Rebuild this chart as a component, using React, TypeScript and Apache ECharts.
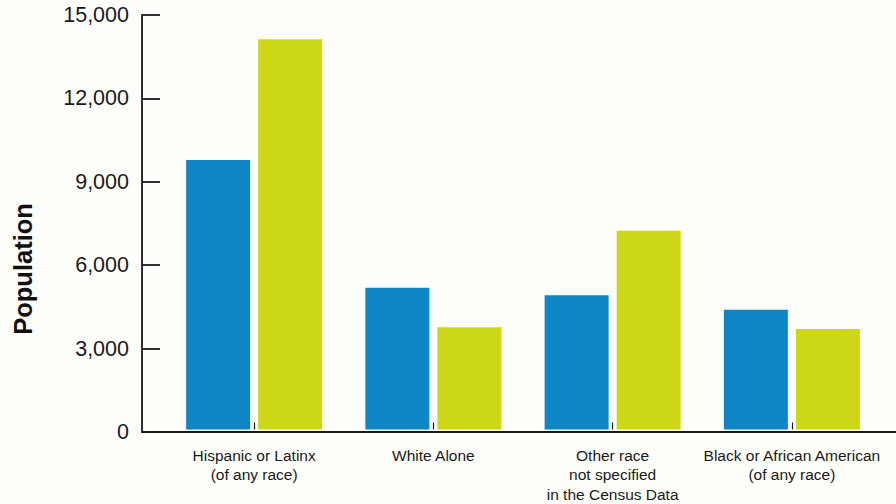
import React, { useEffect, useRef } from "react";
import * as echarts from "echarts";

const categories = [
  "Hispanic or Latinx\n(of any race)",
  "White Alone",
  "Other race\nnot specified\nin the Census Data",
  "Black or African American\n(of any race)",
];
const blueValues = [9750, 5130, 4860, 4330];
const greenValues = [14120, 3700, 7190, 3640];
const yTicks = { min: 0, max: 15000, interval: 3000 };
const yTitle = "Population";

const BLUE = "#0e86c5";
const GREEN = "#ccd816";
const AXIS = "#1a1a1a";
const FONT = "'Liberation Sans', Arial, Helvetica, sans-serif";

export default function App() {
  const ref = useRef<HTMLDivElement>(null);

  useEffect(() => {
    if (!ref.current) return;
    const chart = echarts.init(ref.current, undefined, { renderer: "svg" });
    const top = 15;
    const bottom = 72;
    chart.setOption({
      animation: false,
      backgroundColor: "#fefefa",
      grid: [
        // frame: y axis and the full-width baseline
        { left: 142, right: 0, top, bottom },
        // bars
        { left: 164.5, right: 14.5, top, bottom },
      ],
      graphic: [
        {
          type: "text",
          x: 23,
          y: 269,
          rotation: Math.PI / 2,
          style: {
            text: yTitle,
            align: "center",
            verticalAlign: "middle",
            fontFamily: FONT,
            fontSize: 25.5,
            fontWeight: "bold",
            fill: "#111",
          },
        },
      ],
      xAxis: [
        {
          type: "category",
          gridIndex: 0,
          data: [""],
          axisLine: { show: true, lineStyle: { color: AXIS, width: 1.8 } },
          axisTick: { show: false },
          axisLabel: { show: false },
          splitLine: { show: false },
        },
        {
          type: "category",
          gridIndex: 1,
          data: categories,
          axisLine: { show: false },
          axisTick: {
            show: true,
            inside: true,
            length: 7,
            alignWithLabel: true,
            lineStyle: { color: AXIS, width: 1.2 },
          },
          axisLabel: {
            margin: 16,
            interval: 0,
            fontFamily: FONT,
            fontSize: 15.5,
            lineHeight: 19.5,
            color: "#1a1a1a",
            align: "center",
          },
        },
      ],
      yAxis: [
        {
          type: "value",
          gridIndex: 0,
          min: yTicks.min,
          max: yTicks.max,
          interval: yTicks.interval,
          axisLine: { show: true, lineStyle: { color: AXIS, width: 1.8 } },
          axisTick: {
            show: true,
            inside: true,
            length: 18,
            lineStyle: { color: AXIS, width: 1.8 },
          },
          axisLabel: {
            margin: 13,
            fontFamily: FONT,
            fontSize: 21.5,
            color: "#1a1a1a",
            formatter: (v: number) => v.toLocaleString("en-US"),
          },
          splitLine: { show: false },
        },
        {
          type: "value",
          gridIndex: 1,
          min: yTicks.min,
          max: yTicks.max,
          interval: yTicks.interval,
          show: false,
          splitLine: { show: false },
        },
      ],
      series: [
        {
          type: "bar",
          xAxisIndex: 1,
          yAxisIndex: 1,
          data: blueValues,
          barWidth: 64,
          barGap: "12.5%",
          itemStyle: { color: BLUE },
        },
        {
          type: "bar",
          xAxisIndex: 1,
          yAxisIndex: 1,
          data: greenValues,
          barWidth: 64,
          barGap: "12.5%",
          itemStyle: { color: GREEN },
        },
      ],
    });
    return () => chart.dispose();
  }, []);

  return <div ref={ref} style={{ width: 896, height: 504, position: "fixed", left: 0, top: 0 }} />;
}
